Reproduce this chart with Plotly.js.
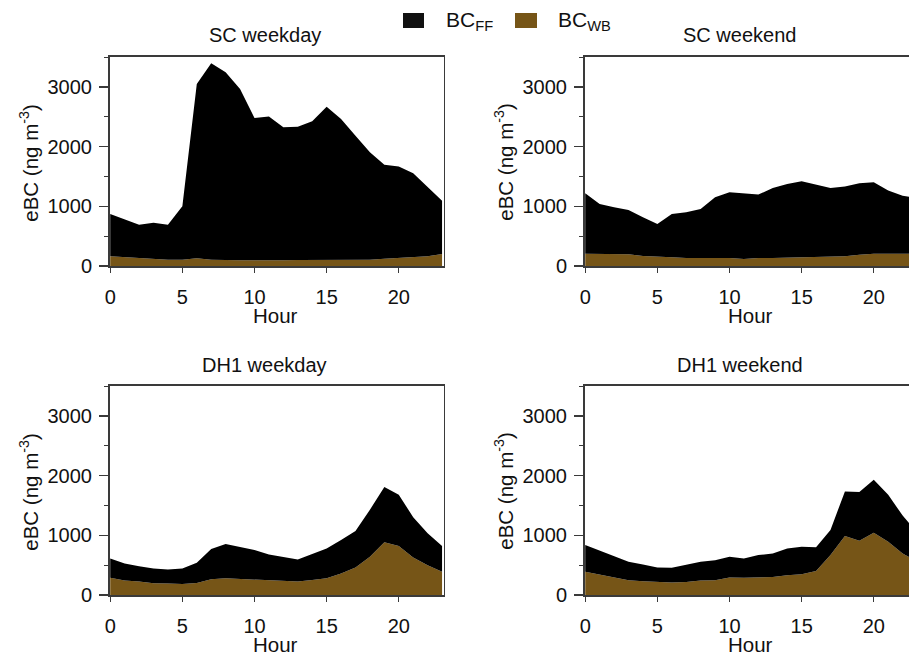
<!DOCTYPE html>
<html>
<head>
<meta charset="utf-8">
<script src="https://cdn.plot.ly/plotly-3.0.1.min.js"></script>
<style>
html,body{margin:0;padding:0;overflow:hidden;background:#fff;}
#chart{width:935px;height:653px;}
</style>
</head>
<body>
<div id="chart"></div>
<script>
// ---- data ----
const hours = [0,1,2,3,4,5,6,7,8,9,10,11,12,13,14,15,16,17,18,19,20,21,22,23];

const panelTitles = ["SC weekday", "SC weekend", "DH1 weekday", "DH1 weekend"];
const seriesNames = ["BC<sub>FF</sub>", "BC<sub>WB</sub>"];

const scWeekdayWB = [162,145,134,123,106,106,128,106,95,95,95,89,95,100,100,100,95,95,106,123,140,151,162,201];
const scWeekdayFF = [708,643,559,603,587,894,2922,3291,3151,2871,2385,2414,2229,2235,2325,2570,2369,2089,1799,1575,1525,1402,1156,894];

const scWeekendWB = [207,207,207,196,168,151,145,134,134,134,134,117,134,134,140,145,145,156,162,190,207,207,207,207];
const scWeekendFF = [1011,832,776,743,648,553,727,765,821,1017,1101,1101,1062,1173,1234,1274,1218,1151,1168,1195,1195,1056,972,933];

const dhWeekdayWB = [287,242,225,197,191,185,202,264,281,270,258,236,230,225,253,281,360,461,640,882,820,629,500,388];
const dhWeekdayFF = [325,286,258,247,236,259,337,506,573,528,495,444,410,371,432,500,561,612,787,927,860,674,534,432];

const dhWeekendWB = [388,343,292,247,230,225,208,219,242,247,292,287,292,303,331,348,404,669,989,910,1045,893,697,560];
const dhWeekendFF = [449,399,365,309,281,236,247,281,314,337,348,325,377,394,450,461,394,421,747,815,888,787,633,490];

const yTickVals = [0,1000,2000,3000];
const xTickVals = [0,5,10,15,20];

// ---- geometry (pixels) ----
const W = 935, H = 653;
const px = v => v / W;
const py = v => 1 - v / H;

const colFF = "#000000";
const colWB = "#765517";
const axisCol = "#3a3a3a";
const font = "Liberation Sans, Arial, sans-serif";

const panels = [
  {wb: scWeekdayWB, ff: scWeekdayFF, x0: 109.5, top: 56.5, bottom: 266},
  {wb: scWeekendWB, ff: scWeekendFF, x0: 584.5, top: 56.5, bottom: 266},
  {wb: dhWeekdayWB, ff: dhWeekdayFF, x0: 109.5, top: 385.5, bottom: 595},
  {wb: dhWeekendWB, ff: dhWeekendFF, x0: 584.5, top: 385.5, bottom: 595}
];
const plotW = 334;

const traces = [];
const layout = {
  width: W, height: H,
  margin: {l:0, r:0, t:0, b:0},
  paper_bgcolor: "#fff",
  plot_bgcolor: "#fff",
  showlegend: false,
  font: {family: font, color: "#111", size: 20},
  annotations: [],
  shapes: []
};

panels.forEach((p, i) => {
  const k = i + 1;
  const xa = k === 1 ? "x" : "x" + k;
  const ya = k === 1 ? "y" : "y" + k;
  traces.push({
    x: hours, y: p.wb, name: "BC_WB", xaxis: xa, yaxis: ya,
    type: "scatter", mode: "lines", stackgroup: "g" + k,
    line: {width: 0, color: colWB}, fillcolor: colWB, hoverinfo: "skip"
  });
  traces.push({
    x: hours, y: p.ff, name: "BC_FF", xaxis: xa, yaxis: ya,
    type: "scatter", mode: "lines", stackgroup: "g" + k,
    line: {width: 0, color: colFF}, fillcolor: colFF, hoverinfo: "skip"
  });

  const xName = k === 1 ? "xaxis" : "xaxis" + k;
  const yName = k === 1 ? "yaxis" : "yaxis" + k;
  layout[xName] = {
    domain: [px(p.x0), px(p.x0 + plotW)],
    anchor: ya,
    range: [-0.05, 23.1],
    tickvals: xTickVals,
    ticks: "outside", ticklen: 5, tickwidth: 1.3, tickcolor: axisCol,
    ticklabelstandoff: 7,
    showline: true, linecolor: axisCol, linewidth: 1.5, mirror: true,
    showgrid: false, zeroline: false,
    tickfont: {family: font, size: 20, color: "#111"},
    fixedrange: true
  };
  layout[yName] = {
    domain: [py(p.bottom), py(p.top)],
    anchor: xa,
    range: [0, 3510],
    tickvals: yTickVals,
    ticks: "outside", ticklen: 9, tickwidth: 1.3, tickcolor: axisCol,
    minor: {dtick: 500, tick0: 0, ticks: "outside", ticklen: 4, tickwidth: 1.2, tickcolor: axisCol, showgrid: false},
    ticklabelstandoff: 3,
    showline: true, linecolor: axisCol, linewidth: 1.5, mirror: true,
    showgrid: false, zeroline: false,
    tickfont: {family: font, size: 20, color: "#111"},
    fixedrange: true
  };

  // panel title
  layout.annotations.push({
    xref: "paper", yref: "paper",
    x: px(p.x0 + plotW / 2 - 12), y: py(p.top - 21),
    xanchor: "center", yanchor: "middle",
    text: panelTitles[i], showarrow: false,
    font: {family: font, size: 20, color: "#111"}
  });
  // x axis title
  layout.annotations.push({
    xref: "paper", yref: "paper",
    x: px(p.x0 + plotW / 2 - 1), y: py(p.bottom + 49),
    xanchor: "center", yanchor: "middle",
    text: "Hour", showarrow: false,
    font: {family: font, size: 20.5, color: "#111"}
  });
  // y axis title
  layout.annotations.push({
    xref: "paper", yref: "paper",
    x: px(p.x0 - 80), y: py((p.top + p.bottom) / 2 + 1),
    xanchor: "center", yanchor: "middle", textangle: -90,
    text: "eBC (ng m<sup>-3</sup>)", showarrow: false,
    font: {family: font, size: 20.5, color: "#111"}
  });
});

// legend (swatches + labels)
const legendItems = [
  {name: seriesNames[0], color: "#111111", x0: 403, x1: 424, tx: 444},
  {name: seriesNames[1], color: colWB, x0: 515, x1: 537, tx: 556}
];
legendItems.forEach(it => {
  layout.shapes.push({
    type: "rect", xref: "paper", yref: "paper",
    x0: px(it.x0), x1: px(it.x1), y0: py(28), y1: py(13),
    fillcolor: it.color, line: {width: 0}
  });
  layout.annotations.push({
    xref: "paper", yref: "paper",
    x: px(it.tx), y: py(21),
    xanchor: "left", yanchor: "middle",
    text: it.name, showarrow: false,
    font: {family: font, size: 21, color: "#111"}
  });
});

Plotly.newPlot("chart", traces, layout, {staticPlot: true, displayModeBar: false});
</script>
</body>
</html>
